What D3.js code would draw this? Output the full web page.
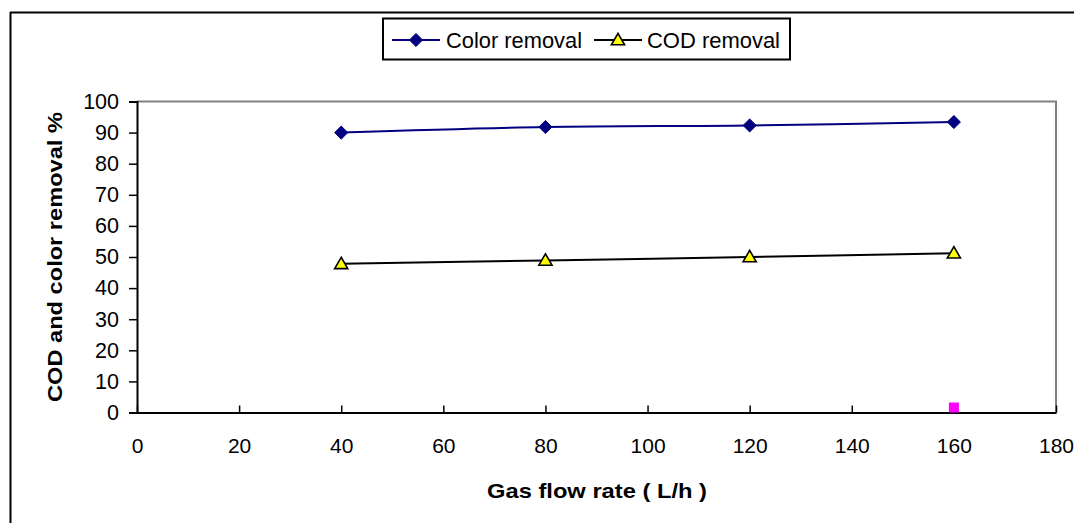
<!DOCTYPE html>
<html>
<head>
<meta charset="utf-8">
<script src="https://cdn.jsdelivr.net/npm/d3@7"></script>
<style>
  html, body { margin: 0; padding: 0; background: #fff; }
  svg { display: block; font-family: "Liberation Sans", Arial, sans-serif; }
</style>
</head>
<body>
<div id="chart"></div>
<script>
// gas flow rate (L/h)
const flowRates = [40, 80, 120, 160];
// removal efficiencies (%)
const colorRemoval = [90.0, 91.8, 92.3, 93.4];
const codRemoval = [47.8, 48.9, 50.0, 51.2];
// stray point sitting on the x axis in the original
const strayPoint = [{ x: 160, y: 1.6 }];

const xTicks = [0, 20, 40, 60, 80, 100, 120, 140, 160, 180];
const yTicks = [0, 10, 20, 30, 40, 50, 60, 70, 80, 90, 100];

const width = 1074, height = 523;
const plot = { left: 137, right: 1056, top: 101.5, bottom: 412.5 };

const svg = d3.select('#chart').append('svg')
    .attr('width', width)
    .attr('height', height);

// outer chart frame (only top and left edges are in view)
svg.append('line')
    .attr('x1', 10).attr('x2', width).attr('y1', 12.5).attr('y2', 12.5)
    .attr('stroke', '#000').attr('stroke-width', 2);
svg.append('line')
    .attr('x1', 10.5).attr('x2', 10.5).attr('y1', 12).attr('y2', height)
    .attr('stroke', '#000').attr('stroke-width', 2);

const x = d3.scaleLinear().domain([0, 180]).range([plot.left, plot.right]);
const y = d3.scaleLinear().domain([0, 100]).range([plot.bottom, plot.top]);

// plot area border (top/right grey)
svg.append('path')
    .attr('d', `M${plot.left},${plot.top}H${plot.right}V${plot.bottom}`)
    .attr('fill', 'none')
    .attr('stroke', '#808080')
    .attr('stroke-width', 2);

// y axis
const yAxis = svg.append('g')
    .attr('transform', `translate(${plot.left},0)`)
    .call(d3.axisLeft(y).tickValues(yTicks).tickSize(8).tickPadding(10).tickFormat(d3.format('d')));
yAxis.select('.domain').attr('stroke', '#000').attr('stroke-width', 2);
yAxis.selectAll('.tick line').attr('stroke', '#000').attr('stroke-width', 1.5);
yAxis.selectAll('.tick text')
    .attr('font-size', 21.5)
    .attr('fill', '#000')
    .attr('font-family', '"Liberation Sans", Arial, sans-serif');

// x axis, ticks point up into the plot
const xAxis = svg.append('g')
    .attr('transform', `translate(0,${plot.bottom})`)
    .call(d3.axisBottom(x).tickValues(xTicks).tickSize(0).tickPadding(26).tickFormat(d3.format('d')));
xAxis.select('.domain').attr('stroke', '#000').attr('stroke-width', 2);
xAxis.selectAll('.tick')
    .append('line')
    .attr('y1', 0).attr('y2', -7)
    .attr('stroke', '#000').attr('stroke-width', 1.5);
xAxis.selectAll('.tick text')
    .attr('font-size', 21)
    .attr('fill', '#000')
    .attr('font-family', '"Liberation Sans", Arial, sans-serif');

// axis titles
svg.append('text')
    .attr('x', 597)
    .attr('y', 498)
    .attr('text-anchor', 'middle')
    .attr('font-size', 21)
    .attr('font-weight', 'bold')
    .attr('textLength', 220)
    .attr('lengthAdjust', 'spacingAndGlyphs')
    .text('Gas flow rate ( L/h )');

svg.append('text')
    .attr('transform', `translate(62,257) rotate(-90)`)
    .attr('text-anchor', 'middle')
    .attr('font-size', 21)
    .attr('font-weight', 'bold')
    .attr('textLength', 290)
    .attr('lengthAdjust', 'spacingAndGlyphs')
    .text('COD and color removal %');

// series
const series = [
    { name: 'Color removal', values: colorRemoval, stroke: '#000080', marker: 'diamond' },
    { name: 'COD removal', values: codRemoval, stroke: '#000000', marker: 'triangle' }
];

const line = d3.line()
    .x(d => x(d.x))
    .y(d => y(d.y))
    .curve(d3.curveCatmullRom.alpha(0.5));

const diamond = d3.symbol().type(d3.symbolDiamond2).size(110);
const triangle = d3.symbol().type(d3.symbolTriangle).size(75);

function drawMarker(g, type) {
    if (type === 'diamond') {
        g.append('path').attr('d', diamond()).attr('fill', '#000080').attr('stroke', '#000080').attr('stroke-width', 1);
    } else {
        g.append('path').attr('d', triangle()).attr('fill', '#ffff00').attr('stroke', '#000').attr('stroke-width', 1.6)
            .attr('transform', 'translate(0,1)');
    }
}

series.forEach(s => {
    const pts = flowRates.map((f, i) => ({ x: f, y: s.values[i] }));
    svg.append('path')
        .datum(pts)
        .attr('d', line)
        .attr('fill', 'none')
        .attr('stroke', s.stroke)
        .attr('stroke-width', 2);
    pts.forEach(p => {
        const g = svg.append('g').attr('transform', `translate(${x(p.x)},${y(p.y)})`);
        drawMarker(g, s.marker);
    });
});

// magenta square point
svg.selectAll('.stray')
    .data(strayPoint)
    .enter()
    .append('rect')
    .attr('class', 'stray')
    .attr('x', d => x(d.x) - 5)
    .attr('y', d => y(d.y) - 5)
    .attr('width', 10)
    .attr('height', 10)
    .attr('fill', '#ff00ff');

// legend
const legend = svg.append('g');
legend.append('rect')
    .attr('x', 383).attr('y', 18.5)
    .attr('width', 407).attr('height', 41)
    .attr('fill', '#fff')
    .attr('stroke', '#000')
    .attr('stroke-width', 2);

const legendItems = [
    { s: series[0], lx: 392, tx: 446, len: 136 },
    { s: series[1], lx: 594, tx: 647, len: 133 }
];
legendItems.forEach(it => {
    legend.append('line')
        .attr('x1', it.lx).attr('x2', it.lx + 48)
        .attr('y1', 40).attr('y2', 40)
        .attr('stroke', it.s.stroke).attr('stroke-width', 2);
    const g = legend.append('g').attr('transform', `translate(${it.lx + 24},40)`);
    drawMarker(g, it.s.marker);
    legend.append('text')
        .attr('x', it.tx).attr('y', 47.5)
        .attr('font-size', 22)
        .attr('textLength', it.len)
        .attr('lengthAdjust', 'spacingAndGlyphs')
        .text(it.s.name);
});
</script>
</body>
</html>
